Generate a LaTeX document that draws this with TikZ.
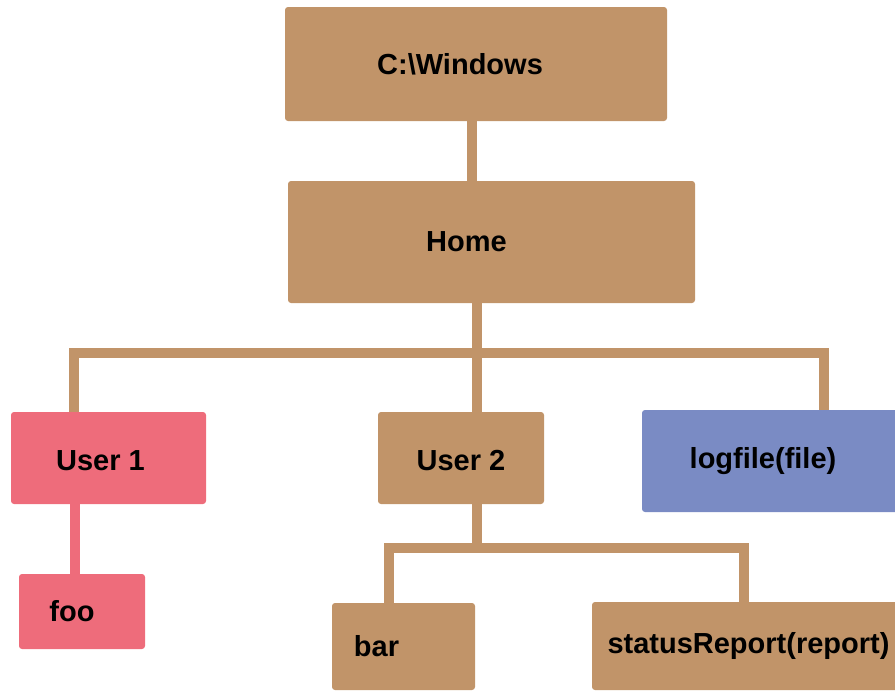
\documentclass[tikz,border=0pt]{standalone}
\usepackage{fontspec}
\setmainfont{Liberation Sans}
\usepackage{xcolor}
\usepackage{tikz}
\usetikzlibrary{positioning,calc,backgrounds}
\definecolor{dirtan}{HTML}{C19469}
\definecolor{userpink}{HTML}{EE6C7B}
\definecolor{fileblue}{HTML}{7A8BC4}

\begin{document}
\begin{tikzpicture}[
  x=1pt, y=-1pt,
  folder/.style={
    rectangle,
    rounded corners=3pt,
    fill=dirtan,
    inner sep=0pt
  },
  userbox/.style={folder, fill=userpink},
  filebox/.style={folder, fill=fileblue},
  boxtext/.style={
    font=\fontsize{29}{33}\selectfont\bfseries,
    text=black,
    inner sep=0pt
  },
  link/.style={line width=10pt, draw=dirtan},
  userlink/.style={link, draw=userpink}
]
\useasboundingbox (0,0) rectangle (895,691);

\node[folder, minimum width=382pt, minimum height=114pt,
  label={[boxtext, xshift=-16pt]center:{C:\textbackslash Windows}}] (win) at (476,64) {};
\node[folder, minimum width=407pt, minimum height=122pt,
  label={[boxtext, xshift=-25pt]center:Home}] (home) at (491.5,242) {};

\node[userbox, minimum width=195pt, minimum height=92pt,
  label={[boxtext, xshift=-8pt, yshift=-3pt]center:User 1}] (user1) at (108.5,458) {};
\node[folder, minimum width=166pt, minimum height=92pt,
  label={[boxtext, yshift=-3pt]center:User 2}] (user2) at (461,458) {};
\node[filebox, minimum width=258pt, minimum height=102pt,
  label={[boxtext, xshift=-8pt]center:logfile(file)}] (logfile) at (771,461) {};

\node[userbox, minimum width=126pt, minimum height=75pt,
  label={[boxtext, xshift=-10pt]center:foo}] (foo) at (82,611.5) {};
\node[folder, minimum width=143pt, minimum height=87pt,
  label={[boxtext, xshift=-27pt]center:bar}] (bar) at (403.5,646.5) {};
\node[folder, minimum width=313pt, minimum height=88pt,
  label={[boxtext]center:statusReport(report)}] (status) at (748.5,646) {};

% tree lines go under the boxes
\begin{scope}[on background layer]
  \coordinate (bus) at (477,353);
  \coordinate (fork) at (477,548);
  \draw[link] ([xshift=-4pt]win.south) -- ([xshift=-4pt]win.south |- home.north);
  \draw[link] (home.south -| bus) -- (user2.north -| bus);
  \draw[link] ([xshift=-35pt]user1.north) |- (bus) -| ([xshift=53pt]logfile.north);
  \draw[link] (user2.south -| fork) -- (fork);
  \draw[link] ([xshift=-15pt]bar.north) |- (fork) -| ([xshift=-5pt]status.north);
  \draw[userlink] ([xshift=-34pt]user1.south) -- ([xshift=-34pt]user1.south |- foo.north);
\end{scope}

\end{tikzpicture}
\end{document}
